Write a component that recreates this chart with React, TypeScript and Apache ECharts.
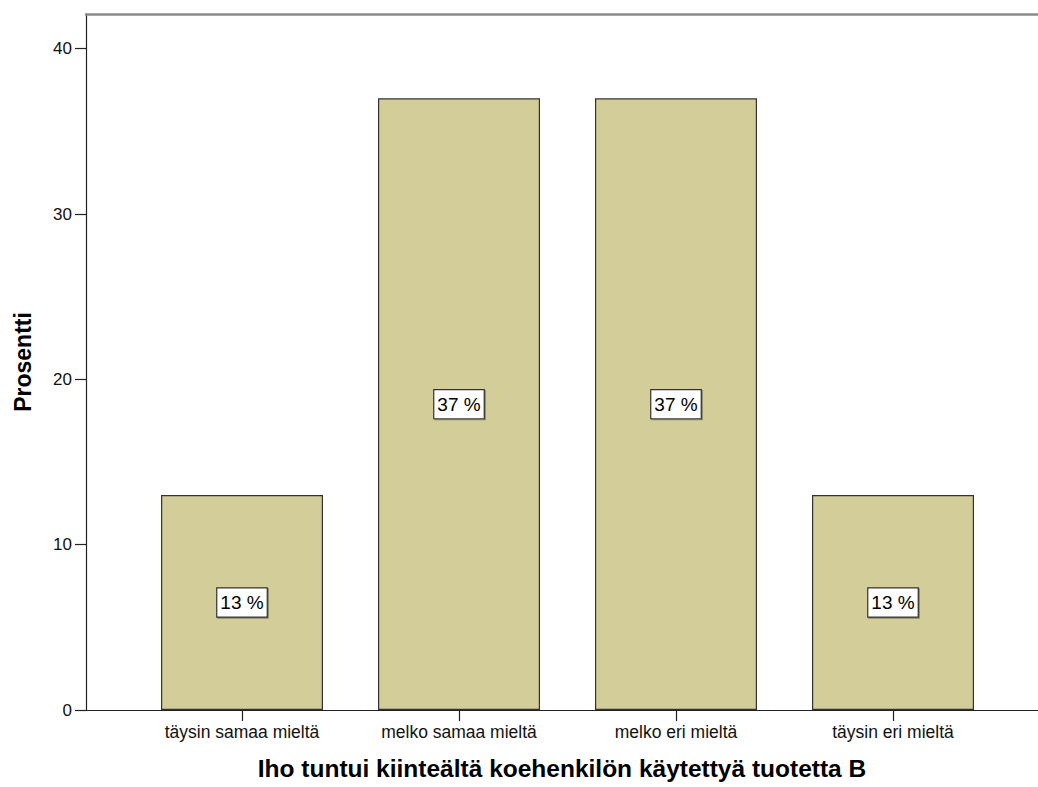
import React, { useEffect, useRef } from "react";
import * as echarts from "echarts";

// Response categories and their shares (%)
const categories = ["täysin samaa mieltä", "melko samaa mieltä", "melko eri mieltä", "täysin eri mieltä"];
const percents = [13, 37, 37, 13];
const yTicks = [0, 10, 20, 30, 40];

const xTitle = "Iho tuntui kiinteältä koehenkilön käytettyä tuotetta B";
const yTitle = "Prosentti";

const FONT = "'Liberation Sans', Arial, sans-serif";
const Y_MAX = 42.1;

export default function App() {
  const ref = useRef<HTMLDivElement>(null);

  useEffect(() => {
    document.body.style.margin = "0";
    if (!ref.current) return;
    const chart = echarts.init(ref.current, undefined, { renderer: "svg" });

    const option: any = {
      animation: false,
      backgroundColor: "#ffffff",
      textStyle: { fontFamily: FONT },
      grid: [
        // frame grid: y axis, baseline, top rule and axis titles
        { left: 86, right: 0, top: 14, bottom: 77 },
        // bar grid
        { left: 133.5, right: 36.5, top: 14, bottom: 77 },
      ],
      xAxis: [
        {
          gridIndex: 0,
          type: "value",
          min: 0,
          max: 1,
          position: "bottom",
          axisLine: { show: true, lineStyle: { color: "#222", width: 1.2 } },
          axisTick: { show: false },
          axisLabel: { show: false },
          splitLine: { show: false },
          name: xTitle,
          nameLocation: "middle",
          nameGap: 46,
          nameTextStyle: { fontFamily: FONT, fontSize: 24.5, fontWeight: "bold", color: "#000" },
        },
        {
          gridIndex: 0,
          type: "value",
          min: 0,
          max: 1,
          position: "top",
          axisLine: { show: true, lineStyle: { color: "#8a8a8a", width: 2.5 } },
          axisTick: { show: false },
          axisLabel: { show: false },
          splitLine: { show: false },
        },
        {
          gridIndex: 1,
          type: "category",
          data: categories,
          boundaryGap: true,
          axisLine: { show: false },
          axisTick: { show: true, alignWithLabel: true, length: 11, lineStyle: { color: "#222", width: 1.2 } },
          axisLabel: { fontFamily: FONT, fontSize: 17.5, color: "#111", margin: 13 },
          splitLine: { show: false },
        },
      ],
      yAxis: [
        {
          gridIndex: 0,
          type: "value",
          min: 0,
          max: Y_MAX,
          interval: 10,
          axisLine: { show: true, lineStyle: { color: "#222", width: 1.2 } },
          axisTick: { show: true, length: 11, lineStyle: { color: "#222", width: 1.2 }, customValues: yTicks },
          axisLabel: { fontFamily: FONT, fontSize: 17, color: "#111", margin: 14, customValues: yTicks },
          splitLine: { show: false },
          name: yTitle,
          nameLocation: "middle",
          nameGap: 52,
          nameTextStyle: { fontFamily: FONT, fontSize: 23, fontWeight: "bold", color: "#000" },
        },
        {
          gridIndex: 1,
          type: "value",
          min: 0,
          max: Y_MAX,
          show: false,
        },
      ],
      series: [
        {
          type: "bar",
          xAxisIndex: 2,
          yAxisIndex: 1,
          data: percents,
          barWidth: 162,
          itemStyle: { color: "#d3ce99", borderColor: "#333", borderWidth: 1.2 },
          label: {
            show: true,
            position: "inside",
            formatter: (p: any) => `${p.value} %`,
            fontFamily: FONT,
            fontSize: 19,
            color: "#000",
            backgroundColor: "#ffffff",
            borderColor: "#333",
            borderWidth: 1.2,
            padding: [5, 3, 4, 3],
            shadowColor: "rgba(0,0,0,0.35)",
            shadowOffsetX: 1,
            shadowOffsetY: 1,
            shadowBlur: 1,
          },
        },
      ],
    };

    chart.setOption(option);
    return () => chart.dispose();
  }, []);

  return <div ref={ref} style={{ width: 1038, height: 787 }} />;
}
